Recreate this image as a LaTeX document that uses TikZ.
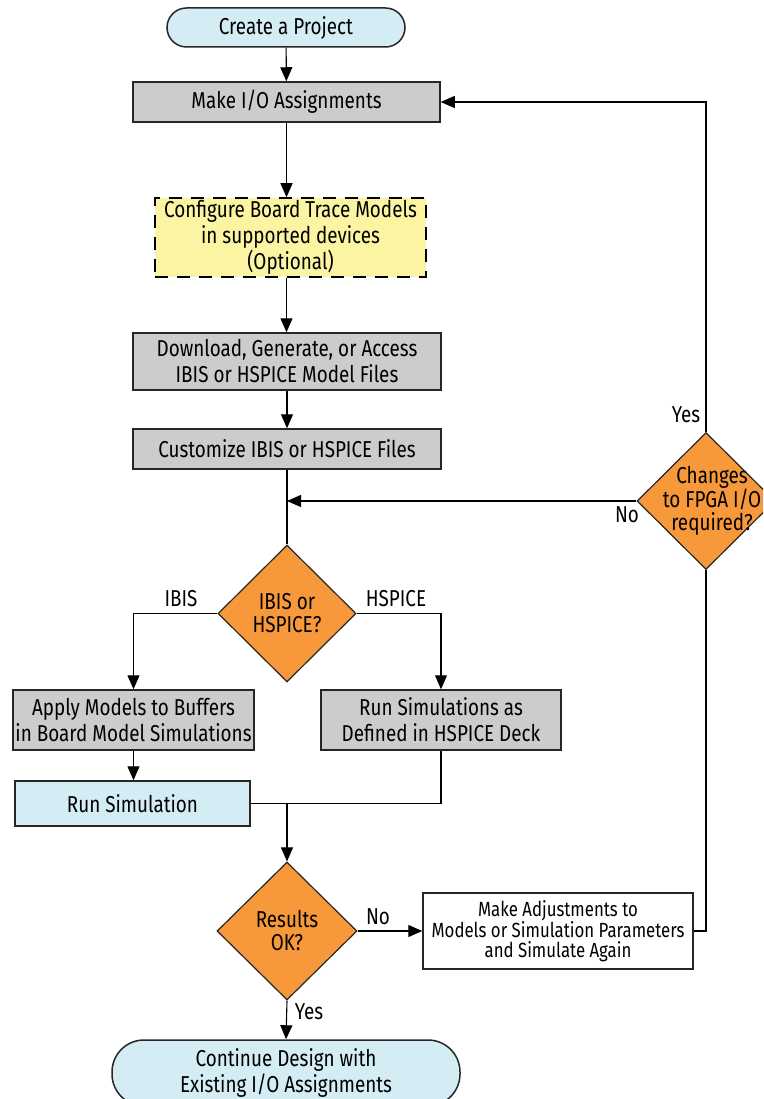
\documentclass[tikz,border=0pt]{standalone}
\usepackage{fontspec}
\setmainfont[FakeStretch=0.82]{Fira Sans}
\usetikzlibrary{shapes.geometric,arrows.meta}
\definecolor{lblue}{HTML}{D4ECF3}
\definecolor{gbox}{HTML}{CCCCCC}
\definecolor{ybox}{HTML}{FBF4A3}
\definecolor{obox}{HTML}{F7993A}
\definecolor{edge}{HTML}{262626}
\begin{document}
\begin{tikzpicture}[x=1pt,y=-1pt,
  font=\fontsize{23}{26}\selectfont,
  base/.style={draw=edge, line width=1.5pt, align=center, inner sep=0pt},
  graybox/.style={base, fill=gbox},
  bluebox/.style={base, fill=lblue},
  dashbox/.style={base, fill=ybox, draw=black, dash pattern=on 13pt off 9pt},
  whitebox/.style={base, fill=white, font=\fontsize{20.5}{19.5}\selectfont},
  decision/.style={diamond, draw=edge, line width=1.2pt, fill=obox, inner sep=0pt},
  dtext/.style={align=center, font=\fontsize{23}{23}\selectfont},
  arr/.style={line width=1.1pt, -{Triangle[length=14pt,width=12pt]}},
  ln/.style={line width=1.1pt},
  lbl/.style={inner sep=0pt}
]
\useasboundingbox (0,0) rectangle (763,1099);
\clip (0,0) rectangle (763,1099);

\node[bluebox, rounded corners=19.5pt, minimum width=238pt, minimum height=39pt] (start) at (286,27.5) {Create a Project};
\node[graybox, minimum width=307pt, minimum height=40pt] (io) at (286.5,102) {Make I/O Assignments};
\node[dashbox, minimum width=271pt, minimum height=79pt] (cfg) at (290.5,237.5) {Configure Board Trace Models\\in supported devices\\(Optional)};
\node[graybox, minimum width=308pt, minimum height=57pt] (dl) at (287,361.5) {Download, Generate, or Access\\IBIS or HSPICE Model Files};
\node[graybox, minimum width=308pt, minimum height=40pt] (cust) at (287,449) {Customize IBIS or HSPICE Files};

\node[decision, minimum width=138pt, minimum height=137pt,
  label={[dtext]center:IBIS or\\HSPICE?}] (d1) at (287,613.5) {};
\node[graybox, minimum width=241pt, minimum height=60pt] (apply) at (133.5,720) {Apply Models to Buffers\\in Board Model Simulations};
\node[graybox, minimum width=240pt, minimum height=60pt] (hsp) at (441,720) {Run Simulations as\\Defined in HSPICE Deck};
\node[bluebox, minimum width=235pt, minimum height=45pt] (run) at (132.5,803.5) {Run Simulation};

\node[decision, minimum width=140pt, minimum height=138pt,
  label={[dtext]center:Results\\OK?}] (res) at (287,931) {};
\node[whitebox, minimum width=270pt, minimum height=76pt] (adj) at (558,931) {Make Adjustments to\\Models or Simulation Parameters\\and Simulate Again};
\node[decision, minimum width=138pt, minimum height=137pt,
  label={[dtext, xshift=6pt]center:Changes\\to FPGA I/O\\required?}] (fpga) at (706,501) {};
\node[bluebox, rounded corners=32pt, minimum width=348pt, minimum height=66pt] (cont) at (286,1073) {Continue Design with\\Existing I/O Assignments};

% connectors
\draw[arr] (start) -- (io);
\draw[arr] (io.south) -- (io.south |- cfg.north);
\draw[arr] (io.south |- cfg.south) -- (io.south |- dl.north);
\draw[arr] (dl) -- (cust);
\draw[ln] (cust) -- (d1);
\draw[arr] (fpga.west) -- (fpga.west -| cust.south);
\draw[arr] (fpga.north) |- (io.east);
\draw[arr] (d1.west) -| (apply.north);
\draw[arr] (d1.east) -| (hsp.north);
\draw[arr] (apply.south) -- (apply.south |- run.north);
\draw[ln] (hsp.south) |- (run.east);
\coordinate (join) at (d1.south |- run.east);
\draw[arr] (join) -- (res.north);
\draw[arr] (res.east) -- (adj.west);
\draw[ln] (adj.east) -| (fpga.south);
\draw[arr] (res.south) -- (cont.north);

% labels
\node[lbl] (lIBIS) at (181,599) {IBIS};
\node[lbl] (lHSP) at (396,599) {HSPICE};
\node[lbl] (lNo1) at (378,917) {No};
\node[lbl] (lYes1) at (309,1012) {Yes};
\node[lbl] (lYes2) at (686,415) {Yes};
\node[lbl] (lNo2) at (627,515) {No};
\end{tikzpicture}
\end{document}
